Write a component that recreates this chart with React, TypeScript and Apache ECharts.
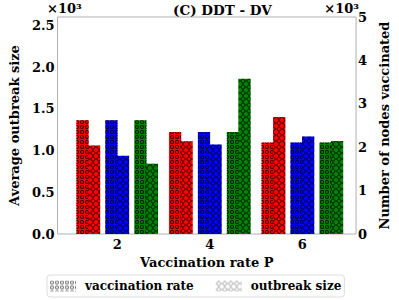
import React, { useEffect, useRef } from 'react';
import * as echarts from 'echarts';

// ---- data ----
const categories = [2, 4, 6];
const colorNames = ['red', 'blue', 'green'];
const barColors = ['#ff0000', '#0000ff', '#008000'];
// number of nodes vaccinated (right axis)
const vaccRed = [2620, 2350, 2106];
const vaccBlue = [2620, 2350, 2106];
const vaccGreen = [2620, 2350, 2106];
// average outbreak size (left axis)
const outbreakRed = [1059, 1111, 1403];
const outbreakBlue = [939, 1071, 1167];
const outbreakGreen = [843, 1859, 1114];
const leftTicks = [0, 500, 1000, 1500, 2000, 2500];
const rightTicks = [0, 1000, 2000, 3000, 4000, 5000];

// ---- layout ----
const vaccOffsets = [-0.75, -0.125, 0.5];
const outbreakOffsets = [-0.5, 0.125, 0.75];
const FONT = '"DejaVu Serif", serif';

const vaccDecal = {
  symbol: 'path://M2,0A2,2 0 1,1 2,4A2,2 0 1,1 2,0ZM2,0.9A1.1,1.1 0 1,0 2,3.1A1.1,1.1 0 1,0 2,0.9Z',
  symbolSize: 1,
  dashArrayX: [3.5, 0.5],
  dashArrayY: [3.5, 0.5],
  color: 'rgba(0,0,0,0.85)',
};
const crossDecal = {
  symbol: 'path://M3,0L6,3L3,6L0,3ZM3,1L1,3L3,5L5,3Z',
  symbolSize: 1,
  dashArrayX: [6, 0],
  dashArrayY: [6, 0],
  color: 'rgba(0,0,0,0.9)',
};

export default function App() {
  const ref = useRef<HTMLDivElement>(null);
  useEffect(() => {
    if (!ref.current) return;
    const chart = echarts.init(ref.current, null, { renderer: 'svg' });
    const vaccAll = [vaccRed, vaccBlue, vaccGreen];
    const outAll = [outbreakRed, outbreakBlue, outbreakGreen];
    const series: any[] = [
      {
        name: 'vaccination rate', type: 'bar', data: [], barWidth: 12, barGap: '-100%',
        itemStyle: { color: '#ffffff', decal: { ...vaccDecal, color: 'rgba(80,80,80,0.9)' } },
      },
      {
        name: 'outbreak size', type: 'bar', data: [], barWidth: 12, barGap: '-100%',
        itemStyle: { color: '#ffffff', decal: { ...crossDecal, color: 'rgba(140,140,140,0.9)' } },
      },
    ];
    colorNames.forEach((cn, i) => {
      series.push({
        name: 'vacc-' + cn, type: 'bar', yAxisIndex: 1, barWidth: 12.2, barGap: '-100%',
        data: categories.map((c, k) => [c + vaccOffsets[i], vaccAll[i][k]]),
        itemStyle: { color: barColors[i], decal: vaccDecal },
      });
      series.push({
        name: 'outbreak-' + cn, type: 'bar', yAxisIndex: 0, barWidth: 12.2, barGap: '-100%',
        data: categories.map((c, k) => [c + outbreakOffsets[i], outAll[i][k]]),
        itemStyle: { color: barColors[i], decal: crossDecal },
      });
    });
    const bold = { fontFamily: FONT, fontWeight: 'bold' as const, fontSize: 13, color: '#000' };
    chart.setOption({
      animation: false,
      grid: { left: 47, right: 40, top: 17, bottom: 66, show: true, borderColor: '#b0b0b0', borderWidth: 1 },
      legend: {
        data: ['vaccination rate', 'outbreak size'],
        left: 47, top: 275, padding: [5, 3], itemWidth: 26, itemHeight: 11, itemGap: 22,
        borderColor: '#dddddd', borderWidth: 1, borderRadius: 3, icon: 'rect',
        textStyle: { ...bold, fontSize: 12, padding: [0, 0, 0, 4] },
      },
      xAxis: {
        type: 'value', min: 0.71, max: 7.16,
        axisLine: { show: false }, axisTick: { show: false, customValues: categories }, splitLine: { show: false },
        axisLabel: { ...bold, customValues: categories, formatter: (v: number) => String(v), margin: 4 },
        name: 'Vaccination rate P', nameLocation: 'middle', nameGap: 19, nameTextStyle: bold,
      },
      yAxis: [
        {
          type: 'value', min: 0, max: 2600, interval: 500, position: 'left',
          axisLine: { show: false }, axisTick: { show: false }, splitLine: { show: false },
          axisLabel: { ...bold, margin: 3, formatter: (v: number) => (leftTicks.includes(v) ? (v / 1000).toFixed(1) : '') },
          name: 'Average outbreak size', nameLocation: 'middle', nameGap: 27, nameTextStyle: bold,
        },
        {
          type: 'value', min: 0, max: 5000, interval: 1000, position: 'right',
          axisLine: { show: false }, axisTick: { show: false }, splitLine: { show: false },
          axisLabel: { ...bold, margin: 2, formatter: (v: number) => (rightTicks.includes(v) ? String(v / 1000) : '') },
          name: 'Number of nodes vaccinated', nameLocation: 'middle', nameGap: 18, nameTextStyle: bold,
        },
      ],
      graphic: [
        { type: 'text', left: 173, top: 3, style: { text: '(C) DDT - DV', font: 'bold 13.5px "DejaVu Serif", serif', fill: '#000' } },
        { type: 'text', left: 47, top: 2, style: { text: '×10³', font: 'bold 13px "DejaVu Serif", serif', fill: '#000' } },
        { type: 'text', right: 40, top: 2, style: { text: '×10³', font: 'bold 13px "DejaVu Serif", serif', fill: '#000' } },
      ],
      series,
    });
    return () => chart.dispose();
  }, []);
  return <div ref={ref} style={{ width: 399, height: 300, position: 'absolute', left: 0, top: 0 }} />;
}
